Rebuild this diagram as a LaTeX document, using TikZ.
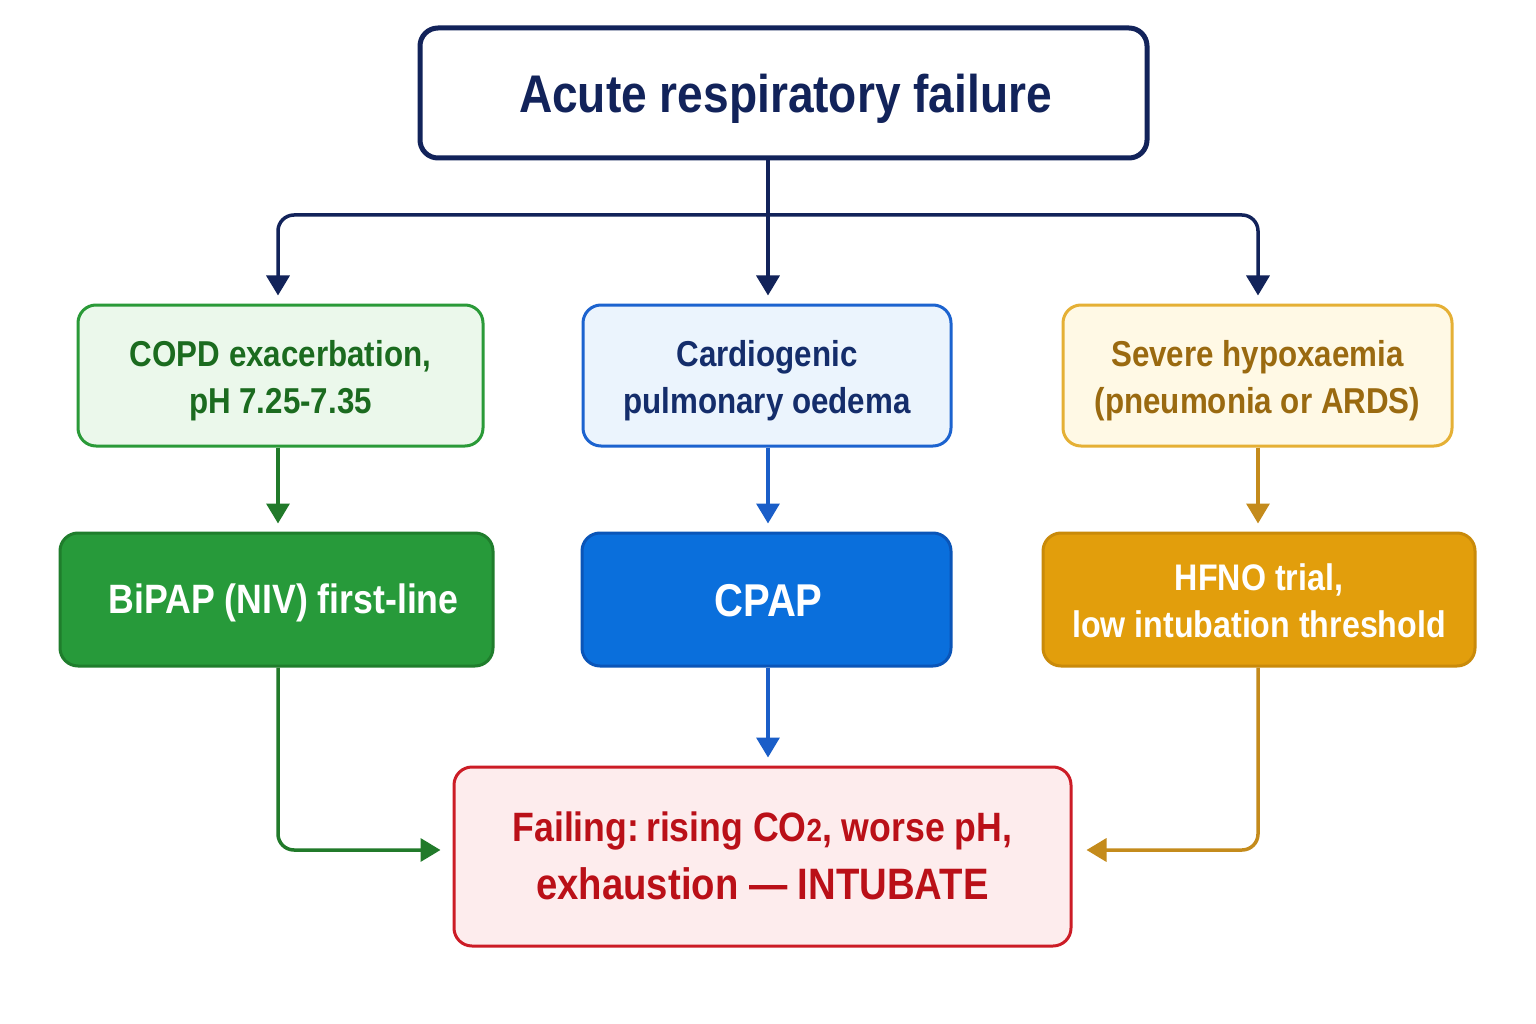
\documentclass[tikz,border=0pt]{standalone}
\usepackage{fontspec}
\setmainfont{Liberation Sans}[FakeStretch=0.87]
\usetikzlibrary{arrows.meta}
\definecolor{navy}{HTML}{12235A}
\definecolor{gbord}{HTML}{2A9A38}
\definecolor{gfill}{HTML}{EBF8EB}
\definecolor{gtext}{HTML}{1B6B1F}
\definecolor{gdark}{HTML}{279A3A}
\definecolor{gdarkb}{HTML}{1F7D2C}
\definecolor{garrow}{HTML}{217A2A}
\definecolor{bbord}{HTML}{1C63CF}
\definecolor{bfill}{HTML}{EBF4FD}
\definecolor{btext}{HTML}{142D6B}
\definecolor{bdark}{HTML}{0A6FDC}
\definecolor{bdarkb}{HTML}{0A55B8}
\definecolor{barrow}{HTML}{1A5EC8}
\definecolor{ybord}{HTML}{E5B035}
\definecolor{yfill}{HTML}{FFF9E5}
\definecolor{ytext}{HTML}{9A6A10}
\definecolor{odark}{HTML}{E29E0C}
\definecolor{odarkb}{HTML}{C98A0A}
\definecolor{oarrow}{HTML}{C48B1C}
\definecolor{rbord}{HTML}{CC1C26}
\definecolor{rfill}{HTML}{FDECED}
\definecolor{rtext}{HTML}{BA1018}
\begin{document}
\begin{tikzpicture}[x=1pt,y=-1pt,
  boxstyle/.style={rectangle, rounded corners=18pt, line width=3pt, inner sep=0pt},
  txt/.style={align=center, inner sep=0pt, font=\bfseries},
  conn/.style={line width=3.5pt, rounded corners=16pt, -{Triangle[width=23pt,length=20pt]}, shorten >=8pt},
  plain/.style={line width=3.5pt, rounded corners=16pt}
]
\useasboundingbox (0,0) rectangle (1536,1024);
\fill[white] (0,0) rectangle (1536,1024);

% boxes
\node[boxstyle, draw=navy, line width=5pt, fill=white, minimum width=727pt, minimum height=130pt] (top) at (783.5,93) {};
\node[boxstyle, draw=gbord, fill=gfill, minimum width=405pt, minimum height=141pt] (g1) at (280.5,375.5) {};
\node[boxstyle, draw=bbord, fill=bfill, minimum width=368pt, minimum height=141pt] (b1) at (767,375.5) {};
\node[boxstyle, draw=ybord, fill=yfill, minimum width=389pt, minimum height=141pt] (y1) at (1257.5,375.5) {};
\node[boxstyle, draw=gdarkb, fill=gdark, minimum width=433pt, minimum height=133pt] (g2) at (276.5,599.5) {};
\node[boxstyle, draw=bdarkb, fill=bdark, minimum width=369pt, minimum height=133pt] (b2) at (766.5,599.5) {};
\node[boxstyle, draw=odarkb, fill=odark, minimum width=432pt, minimum height=133pt] (o2) at (1259,599.5) {};
\node[boxstyle, draw=rbord, fill=rfill, minimum width=617pt, minimum height=179pt] (red) at (762.5,856.5) {};

% texts
\node[txt, text=navy, font=\bfseries\fontsize{53}{60}\selectfont] (topt) at ([xshift=2pt,yshift=-6pt]top.center) {Acute respiratory failure};
\node[txt, text=gtext, font=\bfseries\fontsize{36}{47}\selectfont] (g1t) at ([yshift=-5pt]g1.center) {COPD exacerbation,\\pH 7.25-7.35};
\node[txt, text=btext, font=\bfseries\fontsize{36}{47}\selectfont] (b1t) at ([yshift=-5pt]b1.center) {Cardiogenic\\pulmonary oedema};
\node[txt, text=ytext, font=\bfseries\fontsize{36}{47}\selectfont] (y1t) at ([yshift=-5pt]y1.center) {Severe hypoxaemia\\(pneumonia or ARDS)};
\node[txt, text=white, font=\bfseries\fontsize{41}{50}\selectfont] (g2t) at ([xshift=7pt,yshift=-3pt]g2.center) {BiPAP (NIV) first-line};
\node[txt, text=white, font=\bfseries\fontsize{46}{50}\selectfont] (b2t) at ([xshift=2pt,yshift=-1pt]b2.center) {CPAP};
\node[txt, text=white, font=\bfseries\fontsize{37}{47}\selectfont] (o2t) at ([yshift=-1pt]o2.center) {HFNO trial,\\low intubation threshold};
\node[txt, text=rtext, font=\bfseries\fontsize{41}{58}\selectfont] (redt) at ([yshift=1pt]red.center)
  {Failing:\,rising CO{\fontsize{32}{36}\selectfont 2}, worse pH,\\{\fontsize{44}{58}\selectfont exhaustion --- INTUBATE}};

% top connectors
\coordinate (j) at (768,215);
\draw[plain, navy] (top.south -| j) -- (j);
\draw[conn, navy] (j) -| (g1.north -| 278,0);
\draw[conn, navy] (j) -- (b1.north -| j);
\draw[conn, navy] (j) -| (y1.north -| 1258,0);

% middle connectors
\draw[conn, garrow] (g1.south -| 278,0) -- (g2.north -| 278,0);
\draw[conn, barrow] (b1.south -| 768,0) -- (b2.north -| 768,0);
\draw[conn, oarrow] (y1.south -| 1258,0) -- (o2.north -| 1258,0);

% bottom connectors
\coordinate (gl) at (278,850);
\coordinate (ol) at (1258,850);
\draw[conn, garrow, shorten >=12pt] (g2.south -| gl) |- (red.west |- gl);
\draw[conn, barrow] (b2.south -| 768,0) -- (red.north -| 768,0);
\draw[conn, oarrow, shorten >=14pt] (o2.south -| ol) |- (red.east |- ol);
\end{tikzpicture}
\end{document}
